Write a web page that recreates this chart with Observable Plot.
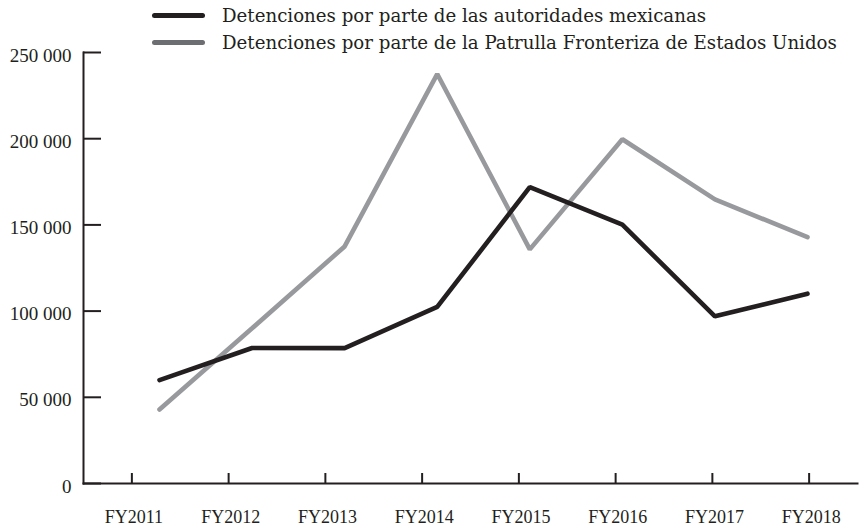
<!DOCTYPE html>
<html>
<head>
<meta charset="utf-8">
<script src="https://cdn.jsdelivr.net/npm/d3@7"></script>
<script src="https://cdn.jsdelivr.net/npm/@observablehq/plot@0.6"></script>
<style>
  html, body { margin: 0; padding: 0; background: #fff; }
  #wrap { position: relative; width: 859px; height: 528px; font-family: "Liberation Serif", serif; color: #231f20; }
  #wrap > svg, #wrap > figure { position: absolute; left: 0; top: 0; margin: 0; }
  .legend { position: absolute; left: 0; top: 0; width: 859px; height: 60px; z-index: 2; }
  .row { position: absolute; left: 150px; height: 19px; line-height: 19px; font-family: "DejaVu Serif", serif; font-size: 18.2px; white-space: nowrap; }
  .sw { position: absolute; left: 2px; top: 6.5px; width: 53px; height: 5px; border-radius: 3px; }
  .lbl { position: absolute; left: 72px; top: 0; }
</style>
</head>
<body>
<div id="wrap">
  <div class="legend" id="legend"></div>
</div>
<script>
const categories = ["FY2011", "FY2012", "FY2013", "FY2014", "FY2015", "FY2016", "FY2017", "FY2018"];
const seriesNames = [
  "Detenciones por parte de las autoridades mexicanas",
  "Detenciones por parte de la Patrulla Fronteriza de Estados Unidos"
];
const mexico = [60000, 78600, 78500, 102400, 171900, 150100, 97000, 110100];
const usbp = [42900, 90000, 137500, 237500, 135800, 199700, 164800, 142900];
const yTicks = [0, 50000, 100000, 150000, 200000, 250000];
const lineColors = ["#231f20", "#98999c"];
const legendColors = ["#231f20", "#6d6e71"];

// table: grey series first so the black line is drawn on top
const data = [
  ...categories.map((c, i) => ({year: c, value: usbp[i], series: seriesNames[1]})),
  ...categories.map((c, i) => ({year: c, value: mexico[i], series: seriesNames[0]}))
];

const fmt = d => d3.format(",")(d).replace(/,/g, " ");
const W = 859, H = 528, MT = 52, MB = 45;

const axes = Plot.plot({
  width: W, height: H,
  marginLeft: 83, marginRight: 2, marginTop: MT, marginBottom: MB,
  style: {fontFamily: "'Liberation Serif', serif", fontSize: "18px", color: "#231f20", background: "transparent", overflow: "visible"},
  x: {type: "point", domain: categories, padding: 0.5, round: false},
  y: {domain: [0, 250000]},
  marks: [
    Plot.axisX({text: null, tickSize: 10, dy: -10, strokeWidth: 2}),
    Plot.axisX({tickSize: 0, tickPadding: 27, dx: 2, fontSize: 18}),
    Plot.axisY({ticks: yTicks, text: null, tickSize: 18, dx: 18, strokeWidth: 2}),
    Plot.axisY({ticks: yTicks, tickSize: 0, tickPadding: 12, dy: 3, tickFormat: fmt, fontSize: 19}),
    Plot.frame({anchor: "left", strokeWidth: 2}),
    Plot.frame({anchor: "bottom", strokeWidth: 2})
  ]
});

const lines = Plot.plot({
  width: W, height: H,
  marginLeft: 159, marginRight: 52, marginTop: MT, marginBottom: MB,
  style: {background: "transparent", overflow: "visible"},
  x: {type: "point", domain: categories, padding: 0, round: false, axis: null},
  y: {domain: [0, 250000], axis: null},
  color: {domain: seriesNames, range: lineColors},
  marks: [
    Plot.line(data, {x: "year", y: "value", z: "series", stroke: "series", strokeWidth: 4.6, strokeLinecap: "round", strokeLinejoin: "miter"})
  ]
});

const wrap = document.getElementById("wrap");
wrap.insertBefore(lines, wrap.firstChild);
wrap.insertBefore(axes, wrap.firstChild);

const legend = document.getElementById("legend");
seriesNames.forEach((name, i) => {
  const row = document.createElement("div");
  row.className = "row";
  row.style.top = (6 + i * 27) + "px";
  const sw = document.createElement("span");
  sw.className = "sw";
  sw.style.background = legendColors[i];
  const lbl = document.createElement("span");
  lbl.className = "lbl";
  lbl.textContent = name;
  row.appendChild(sw);
  row.appendChild(lbl);
  legend.appendChild(row);
});
</script>
</body>
</html>
